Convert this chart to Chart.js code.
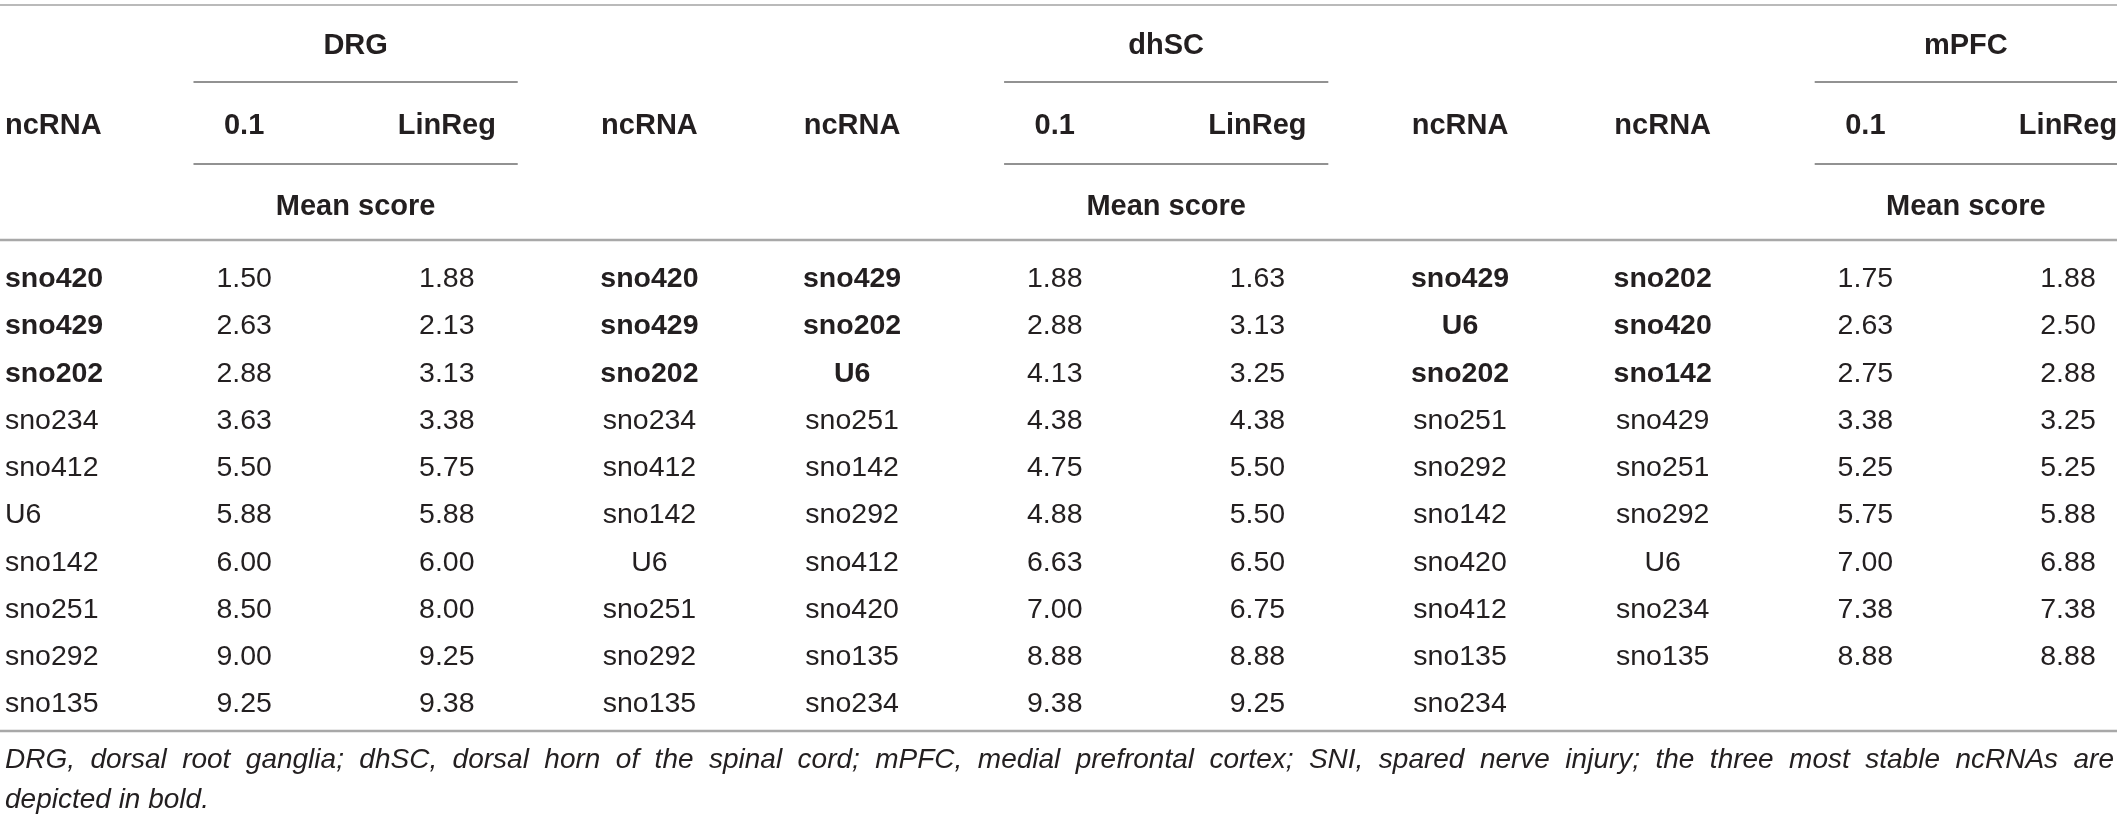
<!DOCTYPE html>
<html>
<head>
<meta charset="utf-8">
<script src="https://cdn.jsdelivr.net/npm/chart.js@4.4.1/dist/chart.umd.min.js"></script>
<style>
  html, body { margin: 0; padding: 0; background: #fff; }
  #wrap { width: 2117px; height: 823px; }
</style>
</head>
<body>
<div id="wrap"><canvas id="myChart" width="2117" height="823"></canvas></div>
<script>
// column keys / header texts
const colKeys = ["c0", "c1", "c2", "c3", "c4", "c5", "c6", "c7", "c8", "c9", "c10"];
const colHeaders = ["ncRNA", "0.1", "LinReg", "ncRNA", "ncRNA", "0.1", "LinReg", "ncRNA", "ncRNA", "0.1", "LinReg"];
const tissues = ["DRG", "dhSC", "mPFC"];
const ranks = ["1", "2", "3", "4", "5", "6", "7", "8", "9", "10"];

// DRG
const drgGenes01 = ["sno420", "sno429", "sno202", "sno234", "sno412", "U6", "sno142", "sno251", "sno292", "sno135"];
const drgMean01 = [1.50, 2.63, 2.88, 3.63, 5.50, 5.88, 6.00, 8.50, 9.00, 9.25];
const drgMeanLinReg = [1.88, 2.13, 3.13, 3.38, 5.75, 5.88, 6.00, 8.00, 9.25, 9.38];
const drgGenesLinReg = ["sno420", "sno429", "sno202", "sno234", "sno412", "sno142", "U6", "sno251", "sno292", "sno135"];

// dhSC
const dhscGenes01 = ["sno429", "sno202", "U6", "sno251", "sno142", "sno292", "sno412", "sno420", "sno135", "sno234"];
const dhscMean01 = [1.88, 2.88, 4.13, 4.38, 4.75, 4.88, 6.63, 7.00, 8.88, 9.38];
const dhscMeanLinReg = [1.63, 3.13, 3.25, 4.38, 5.50, 5.50, 6.50, 6.75, 8.88, 9.25];
const dhscGenesLinReg = ["sno429", "U6", "sno202", "sno251", "sno292", "sno142", "sno420", "sno412", "sno135", "sno234"];

// mPFC
const mpfcGenes01 = ["sno202", "sno420", "sno142", "sno429", "sno251", "sno292", "U6", "sno234", "sno135"];
const mpfcMean01 = [1.75, 2.63, 2.75, 3.38, 5.25, 5.75, 7.00, 7.38, 8.88];
const mpfcMeanLinReg = [1.88, 2.50, 2.88, 3.25, 5.25, 5.88, 6.88, 7.38, 8.88];

const footnote = "DRG, dorsal root ganglia; dhSC, dorsal horn of the spinal cord; mPFC, medial prefrontal cortex; SNI, spared nerve injury; the three most stable ncRNAs are depicted in bold.";
const footnoteBreak = "depicted in bold.";

const columns = [
  drgGenes01, drgMean01, drgMeanLinReg, drgGenesLinReg,
  dhscGenes01, dhscMean01, dhscMeanLinReg, dhscGenesLinReg,
  mpfcGenes01, mpfcMean01, mpfcMeanLinReg
];
const groupCols = [1, 5, 9]; // first score column of each tissue

const FONT = "'Liberation Sans', Arial, sans-serif";
const FS = 28.5;      // cells
const HFS = 29;       // headers
const NFS = 28;       // footnote
const INK = "#231f20";

const datasets = columns.map((col, i) => ({
  label: colHeaders[i],
  data: col.map((v, r) => ({ x: colKeys[i], y: ranks[r] })),
  texts: col.map((v) => (typeof v === "number" ? v.toFixed(2) : v)),
  bolds: col.map((v, r) => typeof v === "string" && r < 3),
  pointRadius: 0,
  pointHoverRadius: 0
}));

function hline(ctx, x1, x2, y, w, color) {
  ctx.save();
  ctx.strokeStyle = color;
  ctx.lineWidth = w;
  ctx.beginPath();
  ctx.moveTo(x1, y);
  ctx.lineTo(x2, y);
  ctx.stroke();
  ctx.restore();
}

const tablePlugin = {
  id: "tablePlugin",
  afterDatasetsDraw(chart) {
    const ctx = chart.ctx;
    const xs = chart.scales.x;
    const W = chart.width;
    const step = xs.getPixelForValue(1) - xs.getPixelForValue(0);

    ctx.save();
    ctx.fillStyle = INK;
    ctx.textBaseline = "alphabetic";
    const hcap = HFS * 0.36;
    const cap = FS * 0.36;
    const left = 5;

    // rules
    hline(ctx, 0, W, 5, 1.5, "#a3a3a3");
    hline(ctx, 0, W, 240, 2.5, "#a8a8a8");
    hline(ctx, 0, W, 731, 2.5, "#a8a8a8");

    // tissue groups
    ctx.font = "bold " + HFS + "px " + FONT;
    ctx.textAlign = "center";
    groupCols.forEach((c, g) => {
      const x1 = xs.getPixelForValue(c) - step * 0.25;
      const x2 = Math.min(W, xs.getPixelForValue(c + 1) + step * 0.35);
      const mid = (x1 + x2) / 2;
      hline(ctx, x1, x2, 82, 1.5, "#6e6e6e");
      hline(ctx, x1, x2, 164, 1.5, "#6e6e6e");
      ctx.fillText(tissues[g], mid, 44 + hcap);
      ctx.fillText("Mean score", mid, 205 + hcap);
    });

    // column headers
    colHeaders.forEach((h, i) => {
      if (i === 0) {
        ctx.textAlign = "left";
        ctx.fillText(h, left, 124 + hcap);
      } else {
        ctx.textAlign = "center";
        ctx.fillText(h, xs.getPixelForValue(i), 124 + hcap);
      }
    });

    // cells, placed at the points the library positioned
    chart.data.datasets.forEach((ds, i) => {
      const meta = chart.getDatasetMeta(i);
      meta.data.forEach((pt, r) => {
        ctx.font = (ds.bolds[r] ? "bold " : "") + FS + "px " + FONT;
        if (i === 0) {
          ctx.textAlign = "left";
          ctx.fillText(ds.texts[r], left, pt.y + cap);
        } else {
          ctx.textAlign = "center";
          ctx.fillText(ds.texts[r], pt.x, pt.y + cap);
        }
      });
    });

    // footnote, first line justified
    ctx.font = "italic " + NFS + "px " + FONT;
    ctx.textAlign = "left";
    const first = footnote.slice(0, footnote.indexOf(footnoteBreak)).trim();
    const words = first.split(" ");
    const right = W - 3;
    const wordsW = words.reduce((s, w) => s + ctx.measureText(w).width, 0);
    const gap = (right - left - wordsW) / (words.length - 1);
    let cx = left;
    words.forEach((w) => {
      ctx.fillText(w, cx, 760 + NFS * 0.3);
      cx += ctx.measureText(w).width + gap;
    });
    ctx.fillText(footnoteBreak, left, 800 + NFS * 0.3);
    ctx.restore();
  }
};

const ctx = document.getElementById("myChart").getContext("2d");
new Chart(ctx, {
  type: "scatter",
  data: { datasets: datasets },
  options: {
    responsive: false,
    animation: false,
    devicePixelRatio: 1,
    layout: { padding: { left: 41.5, right: 49, top: 277, bottom: 121 } },
    plugins: { legend: { display: false }, tooltip: { enabled: false } },
    scales: {
      x: { type: "category", labels: colKeys, offset: false, display: false },
      y: { type: "category", labels: ranks, offset: false, display: false }
    }
  },
  plugins: [tablePlugin]
});
</script>
</body>
</html>
